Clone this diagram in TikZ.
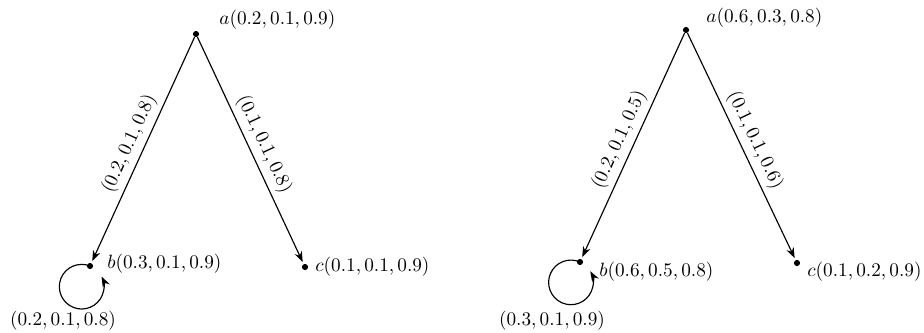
\documentclass[tikz,border=0pt]{standalone}
\usetikzlibrary{arrows.meta}
\begin{document}
\begin{tikzpicture}[x=0.52pt,y=0.52pt,
  vtx/.style={circle,fill=black,inner sep=0pt,minimum size=3.2pt},
  lbl/.style={inner sep=0pt,anchor=west},
  arr/.style={-{Stealth[length=5.5pt,width=4pt]},line width=0.6pt,shorten >=1pt},
  elbl/.style={sloped,above,midway,inner sep=2.5pt}]
\useasboundingbox (0,0) rectangle (924,-332);
% left graph
\node[vtx] (a1) at (196,-34) {};
\node[vtx] (b1) at (90,-266) {};
\node[vtx] (c1) at (305,-267) {};
\node[lbl] (la1) at (219,-20) {$a(0.2, 0.1, 0.9)$};
\node[lbl] (lb1) at (107,-264) {$b(0.3, 0.1, 0.9)$};
\node[lbl] (lc1) at (315,-267) {$c(0.1, 0.1, 0.9)$};
\draw[arr] (a1) -- node[elbl] {$(0.2, 0.1, 0.8)$} (b1);
\draw[arr] (a1) -- node[elbl] {$(0.1, 0.1, 0.8)$} (c1);
\draw[-{Stealth[length=5.5pt,width=4pt]},line width=0.6pt] (b1) arc[start angle=68,end angle=387,radius=11.6pt];
\node (ll1) at (63,-321) {$(0.2, 0.1, 0.8)$};
% right graph
\node[vtx] (a2) at (686,-30) {};
\node[vtx] (b2) at (580,-262) {};
\node[vtx] (c2) at (797,-263) {};
\node[lbl] (la2) at (706,-18) {$a(0.6, 0.3, 0.8)$};
\node[lbl] (lb2) at (599,-272) {$b(0.6, 0.5, 0.8)$};
\node[lbl] (lc2) at (807,-272) {$c(0.1, 0.2, 0.9)$};
\draw[arr] (a2) -- node[elbl] {$(0.2, 0.1, 0.5)$} (b2);
\draw[arr] (a2) -- node[elbl] {$(0.1, 0.1, 0.6)$} (c2);
\draw[-{Stealth[length=5.5pt,width=4pt]},line width=0.6pt] (b2) arc[start angle=66,end angle=390,radius=11.6pt];
\node (ll2) at (552,-321) {$(0.3, 0.1, 0.9)$};
\end{tikzpicture}
\end{document}
